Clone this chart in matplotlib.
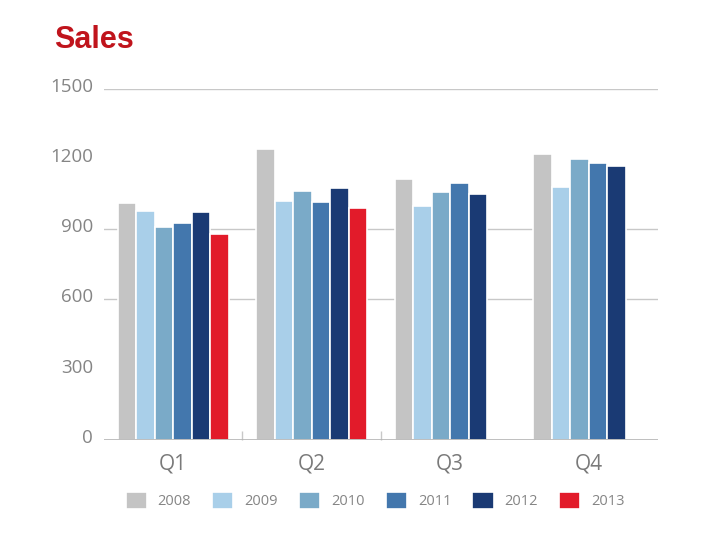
import matplotlib.pyplot as plt
import matplotlib.transforms as mtransforms
import numpy as np

# datos
quarters = ["Q1", "Q2", "Q3", "Q4"]
years = ["2008", "2009", "2010", "2011", "2012", "2013"]
s2008 = [1013, 1243, 1116, 1224]
s2009 = [979, 1022, 1000, 1082]
s2010 = [911, 1065, 1060, 1199]
s2011 = [926, 1018, 1099, 1185]
s2012 = [975, 1076, 1052, 1171]
s2013 = [878, 992, np.nan, np.nan]
series = [s2008, s2009, s2010, s2011, s2012, s2013]
colors = ["#c4c4c4", "#a9cfe9", "#7aaac8", "#4377ad", "#1a3a74", "#e21b2a"]
yticks = [0, 300, 600, 900, 1200, 1500]
grid_at = [600, 900, 1500]

plt.rcParams['font.family'] = ['Open Sans', 'DejaVu Sans']

fig = plt.figure(figsize=(7.2, 5.4), dpi=100)
ax = fig.add_axes([0.1444, 0.1857, 0.7694, 0.6495])

x = np.arange(len(quarters))
w = 0.8 / len(years)
for i, (vals, c, yr) in enumerate(zip(series, colors, years)):
    ax.bar(x - 0.4 + w * (i + 0.5), vals, width=w, color=c,
           edgecolor="white", linewidth=1.2, label=yr, zorder=2)

# lineas de la rejilla
for g in grid_at:
    ax.axhline(g, color="#c8c8c8", lw=1, zorder=1)
ax.axhline(0, color="#b4b4b4", lw=1.2, zorder=3)

ax.set_ylim(0, 1500)
ax.set_xlim(-0.5, 3.5)
ax.set_yticks(yticks)
ax.set_yticklabels([str(t) for t in yticks], fontsize=13.5, color="#858585")
ax.set_xticks(x)
ax.set_xticklabels(quarters, fontsize=15, color="#7a7a7a")
ax.tick_params(axis="x", length=0, pad=10)
ax.tick_params(axis="y", length=0, pad=8)
ax.set_xticks([0.5, 1.5], minor=True)
ax.tick_params(axis="x", which="minor", direction="in", length=6.5,
               color="#c8c8c8", width=1)
for s in ax.spines.values():
    s.set_visible(False)

# subir un poco las etiquetas del eje y
off = mtransforms.ScaledTranslation(0, 4 / 100, fig.dpi_scale_trans)
for lab in ax.get_yticklabels():
    lab.set_transform(lab.get_transform() + off)

fig.text(0.075, 0.925, "Sales", fontsize=22, fontweight="bold",
         color="#c0141c", family="Liberation Sans", ha="left", va="center")

leg = fig.legend(loc="center", bbox_to_anchor=(0.521, 0.073), ncol=6,
                 frameon=False, fontsize=10.5, handlelength=1.45, handleheight=1.45,
                 handletextpad=0.75, columnspacing=1.45)
for t in leg.get_texts():
    t.set_color("#858585")

fig.savefig("out.png", dpi=100)
